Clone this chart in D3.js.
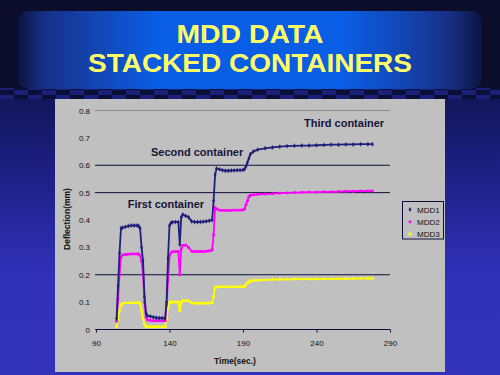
<!DOCTYPE html>
<html>
<head>
<meta charset="utf-8">
<script src="https://cdn.jsdelivr.net/npm/d3@7"></script>
<style>
  body { margin: 0; background: #0b0d2b; }
  svg { display: block; }
</style>
</head>
<body>
<script>
// values (time in sec, deflection in mm)
var times = [104,105,106,107,108,110,112,114,116,118,119,120,121,122,123,124,125,127,129,131,
  133,135,137,138,139,140,141,142,144,146,147,148,149,151,153,155,157,159,161,163,
  165,167,169,170,171,172,174,176,178,180,182,184,186,188,190,191,192,193,194,195,
  197,200,205,210,215,220,225,230,235,240,245,250,255,260,265,270,275,278];

var mdd1 = [0.04,0.16,0.28,0.37,0.372,0.375,0.378,0.38,0.38,0.38,0.378,0.37,0.30,0.25,0.12,0.06,0.05,0.048,0.045,0.043,
  0.042,0.042,0.04,0.10,0.26,0.38,0.39,0.392,0.393,0.393,0.31,0.41,0.42,0.415,0.41,0.395,0.393,0.393,0.393,0.394,
  0.395,0.397,0.40,0.47,0.565,0.588,0.585,0.582,0.58,0.58,0.581,0.581,0.582,0.582,0.583,0.585,0.595,0.61,0.625,0.64,
  0.65,0.657,0.662,0.665,0.668,0.67,0.671,0.672,0.672,0.673,0.674,0.675,0.675,0.676,0.676,0.677,0.677,0.677];

var mdd2 = [0.03,0.11,0.20,0.265,0.272,0.274,0.275,0.276,0.276,0.276,0.276,0.27,0.25,0.20,0.10,0.045,0.035,0.033,0.032,0.032,
  0.032,0.032,0.032,0.09,0.18,0.27,0.28,0.284,0.285,0.285,0.20,0.295,0.307,0.308,0.30,0.286,0.285,0.285,0.285,0.285,
  0.286,0.287,0.29,0.345,0.445,0.44,0.436,0.435,0.435,0.435,0.435,0.436,0.436,0.436,0.437,0.44,0.455,0.47,0.485,0.49,
  0.492,0.494,0.495,0.496,0.498,0.499,0.5,0.501,0.502,0.502,0.503,0.503,0.504,0.505,0.505,0.506,0.506,0.506];

var mdd3 = [0.01,0.04,0.07,0.09,0.095,0.097,0.097,0.097,0.097,0.097,0.097,0.095,0.07,0.04,0.02,0.012,0.01,0.01,0.01,0.01,
  0.01,0.01,0.01,0.04,0.08,0.098,0.10,0.10,0.10,0.10,0.068,0.10,0.105,0.105,0.105,0.097,0.096,0.096,0.096,0.096,
  0.096,0.096,0.097,0.12,0.153,0.155,0.156,0.156,0.156,0.156,0.156,0.156,0.156,0.156,0.157,0.158,0.165,0.17,0.174,0.177,
  0.179,0.18,0.181,0.182,0.183,0.183,0.184,0.184,0.184,0.184,0.185,0.185,0.185,0.186,0.186,0.187,0.187,0.187];

var seriesNames = ["MDD1", "MDD2", "MDD3"];
var seriesColors = ["#1f1f7a", "#ff00ff", "#ffff00"];
var xTicks = [90, 140, 190, 240, 290];
var yTicks = [0, 0.1, 0.2, 0.3, 0.4, 0.5, 0.6, 0.7, 0.8];
var gridValues = [0.2, 0.5, 0.6];
var notes = [
  {text: "First container", t: 111.6, v: 0.445},
  {text: "Second container", t: 127.4, v: 0.634},
  {text: "Third container", t: 231.5, v: 0.739}
];

var width = 500, height = 375;

var svg = d3.select("body").append("svg")
  .attr("width", width)
  .attr("height", height);

var defs = svg.append("defs");

// banner gradient
var bg = defs.append("linearGradient").attr("id", "banner").attr("x1", 0).attr("x2", 1).attr("y1", 0).attr("y2", 0);
[["0%", "#0c1440"], ["6%", "#17318a"], ["18%", "#1248b8"], ["30%", "#0a5ee6"], ["70%", "#0a5ee6"],
 ["82%", "#1248b8"], ["93%", "#172f86"], ["100%", "#0c1440"]].forEach(function(s) {
  bg.append("stop").attr("offset", s[0]).attr("stop-color", s[1]);
});

// lower background gradient
var lg = defs.append("linearGradient").attr("id", "lower").attr("x1", 0).attr("x2", 0).attr("y1", 0).attr("y2", 1);
[["0%", "#12165a"], ["25%", "#1c1f80"], ["50%", "#2a2aa6"], ["65%", "#3131b9"], ["100%", "#3232bb"]].forEach(function(s) {
  lg.append("stop").attr("offset", s[0]).attr("stop-color", s[1]);
});

// checker strip
var pat = defs.append("pattern").attr("id", "checker")
  .attr("width", 28).attr("height", 10).attr("patternUnits", "userSpaceOnUse");
pat.append("rect").attr("width", 28).attr("height", 10).attr("fill", "#1a1f78");
pat.append("rect").attr("width", 14).attr("height", 5).attr("fill", "#0b0e36");
pat.append("rect").attr("x", 14).attr("y", 5).attr("width", 14).attr("height", 5).attr("fill", "#0b0e36");

svg.append("rect").attr("width", width).attr("height", height).attr("fill", "#0b0d2b");
svg.append("rect").attr("x", 0).attr("y", 98).attr("width", width).attr("height", 277).attr("fill", "url(#lower)");
svg.append("rect").attr("x", 0).attr("y", 88).attr("width", width).attr("height", 11).attr("fill", "url(#checker)");
svg.append("rect").attr("x", 18).attr("y", 11).attr("width", 464).attr("height", 78)
  .attr("rx", 10).attr("fill", "url(#banner)");

// title
svg.append("text")
  .attr("x", 250).attr("y", 43)
  .attr("text-anchor", "middle")
  .attr("textLength", 147).attr("lengthAdjust", "spacingAndGlyphs")
  .style("font-family", "Liberation Sans, Arial, sans-serif")
  .style("font-weight", "bold").style("font-size", "25px")
  .attr("fill", "#ffff66")
  .text("MDD DATA");
svg.append("text")
  .attr("x", 250).attr("y", 72)
  .attr("text-anchor", "middle")
  .attr("textLength", 324).attr("lengthAdjust", "spacingAndGlyphs")
  .style("font-family", "Liberation Sans, Arial, sans-serif")
  .style("font-weight", "bold").style("font-size", "25px")
  .attr("fill", "#ffff66")
  .text("STACKED CONTAINERS");

// chart panel
svg.append("rect")
  .attr("x", 55).attr("y", 99)
  .attr("width", 390).attr("height", 273)
  .attr("fill", "#c0c0c0");

var x = d3.scaleLinear().domain([90, 290]).range([96, 390]);
var y = d3.scaleLinear().domain([0, 0.8]).range([329.5, 110.5]);

var lineCol = "#0e0e3c";

// top line at 0.8 (gray) and dark gridlines
svg.append("line")
  .attr("x1", 95).attr("x2", 390)
  .attr("y1", y(0.8)).attr("y2", y(0.8))
  .attr("stroke", "#8a8a8a").attr("stroke-width", 1);

svg.selectAll(".grid").data(gridValues).enter().append("line")
  .attr("class", "grid")
  .attr("x1", 95).attr("x2", 390)
  .attr("y1", function(d) { return y(d); })
  .attr("y2", function(d) { return y(d); })
  .attr("stroke", lineCol).attr("stroke-width", 1);

// x axis
var xAxis = svg.append("g")
  .attr("transform", "translate(0," + y(0) + ")")
  .call(d3.axisBottom(x).tickValues(xTicks).tickSize(3).tickPadding(8).tickSizeOuter(0));
xAxis.select(".domain").attr("stroke", lineCol).attr("d", "M95,0H390");
xAxis.selectAll(".tick line").attr("stroke", lineCol);
xAxis.selectAll("text")
  .style("font-family", "Liberation Sans, Arial, sans-serif")
  .style("font-size", "8px").attr("fill", "#111");

// y axis (labels only)
var yAxis = svg.append("g")
  .attr("transform", "translate(95,0)")
  .call(d3.axisLeft(y).tickValues(yTicks).tickSize(0).tickPadding(5)
    .tickFormat(function(d) { return d === 0 ? "0" : d3.format(".1f")(d); }));
yAxis.select(".domain").remove();
yAxis.selectAll("text")
  .style("font-family", "Liberation Sans, Arial, sans-serif")
  .style("font-size", "8px").attr("fill", "#111");

// axis titles
svg.append("text")
  .attr("x", 235).attr("y", 364)
  .attr("text-anchor", "middle")
  .style("font-family", "Liberation Sans, Arial, sans-serif")
  .style("font-weight", "bold").style("font-size", "8.5px")
  .attr("fill", "#111")
  .text("Time(sec.)");
svg.append("text")
  .attr("transform", "translate(70,219) rotate(-90)")
  .attr("text-anchor", "middle")
  .style("font-family", "Liberation Sans, Arial, sans-serif")
  .style("font-weight", "bold").style("font-size", "8.5px")
  .attr("fill", "#111")
  .text("Deflection(mm)");

// series
var allSeries = [mdd1, mdd2, mdd3];
var symbols = [d3.symbolDiamond, d3.symbolSquare, d3.symbolTriangle];

var line = d3.line()
  .x(function(d) { return x(d[0]); })
  .y(function(d) { return y(d[1]); });

// draw yellow first, navy on top
[2, 1, 0].forEach(function(k) {
  var pts = times.map(function(t, i) { return [t, allSeries[k][i]]; });
  var g = svg.append("g");
  g.append("path")
    .datum(pts)
    .attr("d", line)
    .attr("fill", "none")
    .attr("stroke", seriesColors[k])
    .attr("stroke-width", 1.8);
  g.selectAll("path.pt").data(pts).enter().append("path")
    .attr("class", "pt")
    .attr("transform", function(d) { return "translate(" + x(d[0]) + "," + y(d[1]) + ")"; })
    .attr("d", d3.symbol().type(symbols[k]).size(7))
    .attr("fill", seriesColors[k]);
});

// annotations
svg.selectAll(".note").data(notes).enter().append("text")
  .attr("class", "note")
  .attr("x", function(d) { return x(d.t); })
  .attr("y", function(d) { return y(d.v); })
  .style("font-family", "Liberation Sans, Arial, sans-serif")
  .style("font-weight", "bold").style("font-size", "11px")
  .attr("fill", "#15153a")
  .text(function(d) { return d.text; });

// legend
var legend = svg.append("g");
legend.append("rect")
  .attr("x", 402.5).attr("y", 201.5)
  .attr("width", 41).attr("height", 37.5)
  .attr("fill", "#c0c0c0")
  .attr("stroke", lineCol).attr("stroke-width", 1);
var li = legend.selectAll(".li").data(seriesNames).enter().append("g")
  .attr("class", "li")
  .attr("transform", function(d, i) { return "translate(410," + (209.5 + i * 12.3) + ")"; });
li.append("path")
  .attr("d", function(d, i) { return d3.symbol().type(symbols[i]).size(7)(); })
  .attr("fill", function(d, i) { return seriesColors[i]; });
li.append("text")
  .attr("x", 7).attr("y", 3)
  .style("font-family", "Liberation Sans, Arial, sans-serif")
  .style("font-size", "8px")
  .attr("fill", "#111")
  .text(function(d) { return d; });
</script>
</body>
</html>
